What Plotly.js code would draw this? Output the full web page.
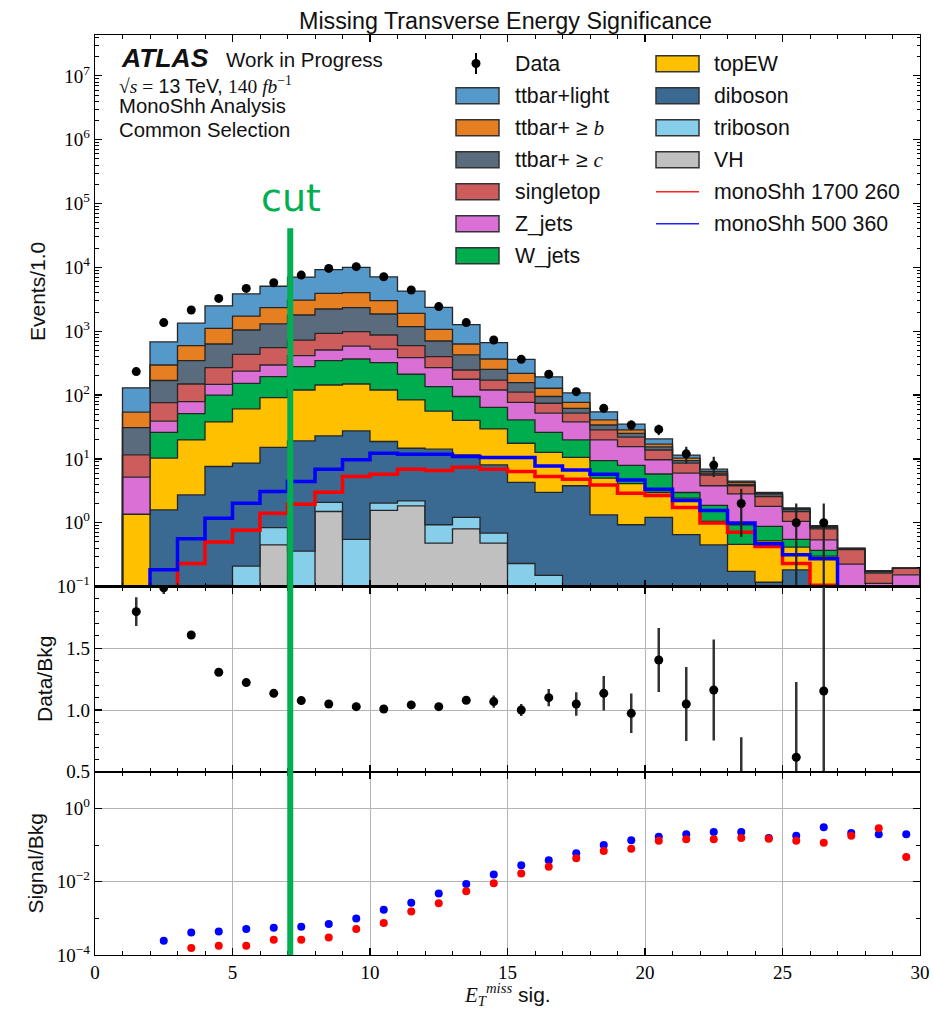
<!DOCTYPE html>
<html><head><meta charset="utf-8">
<script src="https://cdn.plot.ly/plotly-3.0.1.min.js"></script>
<style>html,body{margin:0;padding:0;background:#fff}</style>
</head><body><div id="plot" style="width:933px;height:1011px"></div>
<script>
// ---------------- data ----------------
const binEdges = [1,2,3,4,5,6,7,8,9,10,11,12,13,14,15,16,17,18,19,20,21,22,23,24,25,26,27,28,29,30];

const vh         = [0,0,0,0.104,0,0.45,0,1.5,0,1.56,1.84,0.48,0.8,0.48,0,0,0,0,0,0,0,0,0,0,0,0,0,0,0];
const triboson   = [0,0,0,0,0.21,0.39,0.36,0.58,0.55,0.47,0.36,0.45,0.41,0.21,0.23,0.15,0,0,0,0,0,0,0,0,0,0,0,0,0];
const diboson    = [0,1.59,2.74,7.5,8.39,14.36,18.74,20.8,26.85,16.7,12.5,13.3,10.4,7.36,4.07,2.85,3.8,1.33,0.93,1.21,0.65,0.45,0.173,0.117,0.183,0,0,0,0];
const topEW      = [1.36,8.71,17.1,30.4,52.4,75.8,100.9,121,121.6,101.3,69.3,41.8,28.4,21.45,13.3,9.7,6.8,3.67,3.17,1.77,1.78,0.6,0.287,0.403,0.232,0.3,0,0,0];
const wJets      = [0,15.7,31.2,62,92,104,159,203,218,203,128,80,55,34.5,23.4,13.3,9.2,4.4,3.8,2.82,0.55,0.82,0.47,0.355,0.135,0.07,0,0,0];
const zJets      = [3.84,13,28,47,85,101,136,161,219,203,174,133,82,56,36,26,18.2,10.4,7.7,3.9,3.0,1.93,1.9,0.925,0.5,0.17,0.225,0.112,0.153];
const singletop  = [6.4,37,70,122,197,257,313,419,400,347,210,131,70,52,34,22.5,14,8.6,6.3,4.1,2.6,1.8,0.97,0.78,0.45,0.26,0.155,0.05,0.042];
const ttbarC     = [19.4,93,198,362,610,747,1067,1303,1354,987,584,303,178,81,46,20.5,10,5.6,3.3,1.6,0.8,0.4,0.2,0.22,0.12,0.04,0.01,0.01,0];
const ttbarB     = [23,127,249,479,685,1040,1285,1690,1680,1150,725,369,206,114,62,33,15,7,3.2,1.6,0.9,0.35,0.3,0.08,0.05,0.03,0.005,0,0];
const ttbarLight = [76,384,741,1390,2108,2720,3970,5280,5970,4070,2345,1294,634,298,144,65,31,13.6,6.6,3.6,1.2,0.55,0.2,0.1,0.04,0.03,0.005,0.005,0];

const sigRed  = [0,0,0.23,0.5,0.76,1.41,1.95,3.01,5.3,5.77,6.9,6.6,7.41,6.9,6.35,5.3,4.81,3.9,2.9,2.68,1.73,0.99,0.71,0.425,0.23,0.105,0.072,0.05,0.009];
const sigBlue = [0,0.183,0.56,1.18,2.03,3.09,4.43,6.9,9.7,12.3,11.8,11.8,10.9,10.5,10.5,7.77,6.73,5.77,4.69,3.36,2.23,1.56,0.99,0.47,0.315,0.272,0.085,0.035,0.038];

const dataCounts = [233,1365,2150,3270,4690,5750,7570,9640,10260,7140,4420,2430,1365,728,363,212,113,62,34,29,12,8,2,0,1,1,0,0,0];
const dataErr    = [15,37,46,57,68,76,87,98,101,85,66,49,37,27,19,15,11,8,6,5.4,3.5,2.8,1.4,0,1,1,0,0,0];

const ratio    = [1.797,1.99,1.608,1.306,1.222,1.135,1.076,1.049,1.027,1.008,1.041,1.027,1.079,1.068,1.0,1.1,1.049,1.135,0.973,1.405,1.049,1.162,0.45,null,0.617,1.154,null,null,null];
const ratioErr = [0.116,0.05,0.03,0.02,0.02,0.015,0.015,0.012,0.012,0.015,0.018,0.022,0.03,0.049,0.049,0.07,0.095,0.14,0.16,0.26,0.3,0.41,0.33,0,0.61,1.15,0,0,0];

const sbRed  = [null,null,1.55e-4,1.79e-4,1.79e-4,2.61e-4,2.61e-4,3.02e-4,5.11e-4,7.43e-4,1.53e-3,2.6e-3,5.52e-3,9.1e-3,0.0166,0.0257,0.0437,0.0689,0.0794,0.131,0.1435,0.1435,0.1556,0.149,0.131,0.116,0.1795,0.2858,0.0473];
const sbBlue = [null,2.45e-4,4.12e-4,4.39e-4,5.11e-4,5.53e-4,5.89e-4,6.98e-4,9.9e-4,1.71e-3,2.65e-3,4.74e-3,8.71e-3,0.0156,0.0281,0.0385,0.0597,0.1,0.1346,0.1687,0.1963,0.2265,0.2265,0.1556,0.1795,0.304,0.2128,0.1963,0.1963];

const topTickVals = [1e-1,1,1e1,1e2,1e3,1e4,1e5,1e6,1e7];
const topTickText = ['10<sup>−1</sup>','10<sup>0</sup>','10<sup>1</sup>','10<sup>2</sup>','10<sup>3</sup>','10<sup>4</sup>','10<sup>5</sup>','10<sup>6</sup>','10<sup>7</sup>'];
const ratioTickVals = [0.5,1.0,1.5];
const ratioTickText = ['0.5','1.0','1.5'];
const sbTickVals = [1e-4,1e-2,1];
const sbTickText = ['10<sup>−4</sup>','10<sup>−2</sup>','10<sup>0</sup>'];
const xTickVals = [0,5,10,15,20,25,30];
const cutValue = 7.1;

const stackDefs = [
  {name:'VH',          vals:vh,         color:'#c0c0c0'},
  {name:'triboson',    vals:triboson,   color:'#87ceeb'},
  {name:'diboson',     vals:diboson,    color:'#3a6991'},
  {name:'topEW',       vals:topEW,      color:'#ffc000'},
  {name:'W_jets',      vals:wJets,      color:'#00ad4e'},
  {name:'Z_jets',      vals:zJets,      color:'#da70d6'},
  {name:'singletop',   vals:singletop,  color:'#cd5c5c'},
  {name:'ttbar+≥c',    vals:ttbarC,     color:'#5a6b7d'},
  {name:'ttbar+≥b',    vals:ttbarB,     color:'#e67e22'},
  {name:'ttbar+light', vals:ttbarLight, color:'#5499ca'}
];

// ---------------- helpers ----------------
const FLOOR = 1e-3;
const nb = binEdges.length - 1;
const centers = binEdges.slice(0, nb).map((e, i) => (e + binEdges[i + 1]) / 2);
const stepX = [binEdges[0]].concat(binEdges, [binEdges[nb]]);
const stepY = v => [FLOOR].concat(v.map(a => Math.max(a, FLOOR)), [Math.max(v[nb - 1], FLOOR), FLOOR]);

const SANS = 'Liberation Sans, Arial, sans-serif';
const SERIF = 'Liberation Serif, Times New Roman, serif';
const PL = 95, PR = 920, PT = 35, PB = 955;
const X = px => (px - PL) / (PR - PL);
const Y = py => (PB - py) / (PB - PT);

const traces = [];
traces.push({x: stepX, y: stepY(new Array(nb).fill(0)), type:'scatter', mode:'lines',
  line:{width:0, shape:'hv'}, hoverinfo:'skip', showlegend:false, xaxis:'x', yaxis:'y'});
let cum = new Array(nb).fill(0);
stackDefs.forEach(s => {
  cum = cum.map((c, i) => c + s.vals[i]);
  traces.push({x: stepX, y: stepY(cum), type:'scatter', mode:'lines', name:s.name,
    line:{color:'#262626', width:1.3, shape:'hv'}, fill:'tonexty', fillcolor:s.color,
    showlegend:false, xaxis:'x', yaxis:'y'});
});
traces.push({x: stepX, y: stepY(sigRed), type:'scatter', mode:'lines', name:'monoShh 1700 260',
  line:{color:'#ff0000', width:3.5, shape:'hv'}, showlegend:false, xaxis:'x', yaxis:'y'});
traces.push({x: stepX, y: stepY(sigBlue), type:'scatter', mode:'lines', name:'monoShh 500 360',
  line:{color:'#0000ff', width:3.5, shape:'hv'}, showlegend:false, xaxis:'x', yaxis:'y'});
traces.push({x: centers, y: dataCounts.map(v => v > 0 ? v : null), type:'scatter', mode:'markers', name:'Data',
  marker:{color:'#000', size:9},
  error_y:{type:'data', array:dataErr, visible:true, color:'#222', thickness:2.2, width:0},
  showlegend:false, xaxis:'x', yaxis:'y'});
traces.push({x: centers, y: ratio, type:'scatter', mode:'markers', name:'Data/Bkg',
  marker:{color:'#000', size:9},
  error_y:{type:'data', array:ratioErr, visible:true, color:'#333', thickness:2.5, width:0},
  showlegend:false, xaxis:'x2', yaxis:'y2'});
traces.push({x: centers, y: sbBlue, type:'scatter', mode:'markers', name:'monoShh 500 360',
  marker:{color:'#0000ff', size:8}, showlegend:false, xaxis:'x3', yaxis:'y3'});
traces.push({x: centers, y: sbRed, type:'scatter', mode:'markers', name:'monoShh 1700 260',
  marker:{color:'#ff0000', size:8}, showlegend:false, xaxis:'x3', yaxis:'y3'});

// minor tick positions
const minorTop = [];
for (let d = -1; d <= 7; d++) for (let k = 2; k <= 9; k++) minorTop.push(k * Math.pow(10, d));
const minorSb = [1e-3, 1e-1];

const tickFont = {family: SERIF, size: 19, color: '#000'};
const xBase = {range:[0,30], tickmode:'array', tickvals:xTickVals, ticks:'inside', ticklen:7, tickwidth:1.2,
  tickcolor:'#000', mirror:'allticks', showline:true, linecolor:'#000', linewidth:1.2, zeroline:false,
  minor:{ticks:'inside', ticklen:4, tickwidth:1, tickcolor:'#000', tickmode:'linear', tick0:0, dtick:1, showgrid:false},
  tickfont: tickFont};
const yBase = {ticks:'inside', ticklen:7, tickwidth:1.2, tickcolor:'#000', mirror:'allticks', showline:true,
  linecolor:'#000', linewidth:1.2, zeroline:false, tickfont: tickFont, tickmode:'array'};

const dTop = (PB - 586.6) / (PB - PT);
const dMid = (PB - 771.7) / (PB - PT);

const layout = {
  width: 933, height: 1011,
  margin: {l: PL, r: 933 - PR, t: PT, b: 1011 - PB},
  paper_bgcolor: '#fff', plot_bgcolor: '#fff',
  showlegend: false,
  font: {family: SANS, color: '#000'},
  title: {text: 'Missing Transverse Energy Significance', font: {family: SANS, size: 23.3, color: '#111'},
    x: 505.5 / 933, xanchor: 'center', xref: 'container', y: 1 - 21 / 1011, yanchor: 'middle', yref: 'container'},
  xaxis:  Object.assign({}, xBase, {anchor:'y',  showticklabels:false, showgrid:false}),
  xaxis2: Object.assign({}, xBase, {anchor:'y2', showticklabels:false, showgrid:true, gridcolor:'#b4b4b4', gridwidth:1, matches:'x'}),
  xaxis3: Object.assign({}, xBase, {anchor:'y3', showticklabels:true, showgrid:true, gridcolor:'#b4b4b4', gridwidth:1, matches:'x'}),
  yaxis:  Object.assign({}, yBase, {type:'log', domain:[dTop, 1], range:[-1, 7.64], tickvals:topTickVals, ticktext:topTickText,
    showgrid:false, minor:{ticks:'inside', ticklen:3.5, tickwidth:1, tickcolor:'#000', tickmode:'array', tickvals:minorTop, showgrid:false}}),
  yaxis2: Object.assign({}, yBase, {domain:[dMid, dTop], range:[0.5, 2.0], tickvals:ratioTickVals, ticktext:ratioTickText,
    showgrid:true, gridcolor:'#b4b4b4', gridwidth:1,
    minor:{ticks:'inside', ticklen:4, tickwidth:1, tickcolor:'#000', tickmode:'linear', tick0:0, dtick:0.1, showgrid:false}}),
  yaxis3: Object.assign({}, yBase, {type:'log', domain:[0, dMid], range:[-4, 1], tickvals:sbTickVals, ticktext:sbTickText,
    showgrid:true, gridcolor:'#b4b4b4', gridwidth:1,
    minor:{ticks:'inside', ticklen:4, tickwidth:1, tickcolor:'#000', tickmode:'array', tickvals:minorSb, showgrid:false}}),
  shapes: [],
  annotations: []
};

// cut line
layout.shapes.push({type:'line', xref:'x', yref:'paper', x0:cutValue, x1:cutValue, y0:0, y1:Y(228.3),
  line:{color:'#00b050', width:6}, layer:'above'});

// manual legend
const ann = (x, y, text, opts) => layout.annotations.push(Object.assign({xref:'paper', yref:'paper', x:x, y:y, text:text,
  showarrow:false, xanchor:'left', yanchor:'middle', borderpad:0, font:{family:SANS, size:21.3, color:'#111'}}, opts || {}));

const legendLeft = [
  {label:'ttbar+light', color:'#5499ca'},
  {label:'ttbar+ ≥ <span style="font-family:Liberation Serif"><i>b</i></span>', color:'#e67e22'},
  {label:'ttbar+ ≥ <span style="font-family:Liberation Serif"><i>c</i></span>', color:'#5a6b7d'},
  {label:'singletop', color:'#cd5c5c'},
  {label:'Z_jets', color:'#da70d6'},
  {label:'W_jets', color:'#00ad4e'}
];
const legendRight = [
  {label:'topEW', color:'#ffc000'},
  {label:'diboson', color:'#3a6991'},
  {label:'triboson', color:'#87ceeb'},
  {label:'VH', color:'#c0c0c0'}
];
const rowY = r => 63.7 + 32 * r;
// Data entry
layout.shapes.push({type:'line', xref:'paper', yref:'paper', x0:X(476), x1:X(476), y0:Y(53), y1:Y(74), line:{color:'#000', width:2}});
layout.shapes.push({type:'circle', xref:'paper', yref:'paper', x0:X(471.5), x1:X(480.5), y0:Y(59), y1:Y(68), fillcolor:'#000', line:{color:'#000', width:0}});
ann(X(514), Y(rowY(0)), 'Data');
legendLeft.forEach((e, i) => {
  const c = rowY(i + 1);
  layout.shapes.push({type:'rect', xref:'paper', yref:'paper', x0:X(456), x1:X(499), y0:Y(c + 8), y1:Y(c - 8),
    fillcolor:e.color, line:{color:'#333', width:1.5}});
  ann(X(514), Y(c), e.label);
});
legendRight.forEach((e, i) => {
  const c = rowY(i);
  layout.shapes.push({type:'rect', xref:'paper', yref:'paper', x0:X(656), x1:X(699), y0:Y(c + 8), y1:Y(c - 8),
    fillcolor:e.color, line:{color:'#333', width:1.5}});
  ann(X(713), Y(c), e.label);
});
layout.shapes.push({type:'line', xref:'paper', yref:'paper', x0:X(656), x1:X(699), y0:Y(rowY(4)), y1:Y(rowY(4)), line:{color:'#ff2020', width:1.6}});
ann(X(713), Y(rowY(4)), 'monoShh 1700 260');
layout.shapes.push({type:'line', xref:'paper', yref:'paper', x0:X(656), x1:X(699), y0:Y(rowY(5)), y1:Y(rowY(5)), line:{color:'#2020ff', width:1.6}});
ann(X(713), Y(rowY(5)), 'monoShh 500 360');

// ATLAS label block
const blockFont = {family:SANS, size:20.3, color:'#111'};
ann(X(120), Y(57.5), '<b><i>ATLAS</i></b>', {font:{family:SANS, size:26.5, color:'#111'}});
ann(X(225), Y(59.5), 'Work in Progress', {font:{family:SANS, size:20.5, color:'#111'}});
ann(X(118), Y(85), '<span style="font-family:Liberation Serif">√<i>s</i> =</span> 13 TeV, <span style="font-family:Liberation Serif">140 <i>fb</i><sup>−1</sup></span>', {font:{family:SANS, size:19.5, color:'#111'}});
ann(X(118), Y(106.3), 'MonoShh Analysis', {font:blockFont});
ann(X(118), Y(129.7), 'Common Selection', {font:blockFont});

// cut label
ann(X(290.8), Y(198.4), 'cut', {xanchor:'center', font:{family:'DejaVu Sans, sans-serif', size:38, color:'#00b050'}});

// axis titles
ann(X(37), Y(292), 'Events/1.0', {xanchor:'center', textangle:-90, font:{family:SANS, size:21, color:'#111'}});
ann(X(44), Y(679), 'Data/Bkg', {xanchor:'center', textangle:-90, font:{family:SANS, size:21, color:'#111'}});
ann(X(35), Y(863.5), 'Signal/Bkg', {xanchor:'center', textangle:-90, font:{family:SANS, size:21, color:'#111'}});
ann(X(507), Y(994), '<span style="font-family:Liberation Serif"><i>E</i><sub><i>T</i></sub><sup><i>miss</i></sup></span> sig.',
  {xanchor:'center', font:{family:SANS, size:21, color:'#111'}});

Plotly.newPlot('plot', traces, layout, {displayModeBar:false, staticPlot:true});
</script>
</body></html>
